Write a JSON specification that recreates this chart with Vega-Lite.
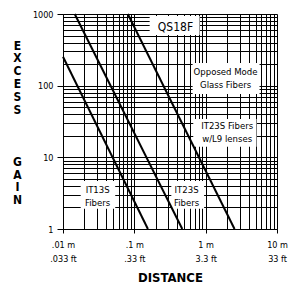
{
  "$schema": "https://vega.github.io/schema/vega-lite/v6.json",
  "width": 214,
  "height": 215,
  "autosize": {"type": "none"},
  "padding": {"left": 63, "top": 14, "right": 12, "bottom": 55},
  "background": "white",
  "config": {
    "view": {"stroke": null},
    "font": "DejaVu Sans Condensed, Liberation Sans, sans-serif"
  },
  "datasets": {
    "lines": [
      {"series": "IT13S Fibers", "x": 0.01, "y": 253},
      {"series": "IT13S Fibers", "x": 0.155, "y": 1},
      {"series": "IT23S Fibers", "x": 0.0146, "y": 1000},
      {"series": "IT23S Fibers", "x": 0.47, "y": 1},
      {"series": "IT23S Fibers w/L9 lenses", "x": 0.081, "y": 1000},
      {"series": "IT23S Fibers w/L9 lenses", "x": 2.54, "y": 1}
    ],
    "labels": [
      {"label": "QS18F", "x": 0.377, "y": 665, "x_from": 0.164, "x_to": 0.822, "y_from": 509, "y_to": 938},
      {"label": "Opposed Mode\nGlass Fibers", "x": 1.9, "y": 157, "x_from": 0.656, "x_to": 5.69, "y_from": 76.6, "y_to": 207},
      {"label": "IT23S Fibers\nw/L9 lenses", "x": 2.0, "y": 27, "x_from": 0.67, "x_to": 5.16, "y_from": 14.0, "y_to": 34.3},
      {"label": "IT13S\nFibers", "x": 0.0306, "y": 3.5, "x_from": 0.0177, "x_to": 0.054, "y_from": 1.91, "y_to": 4.69},
      {"label": "IT23S\nFibers", "x": 0.54, "y": 3.5, "x_from": 0.33, "x_to": 0.95, "y_from": 1.91, "y_to": 4.69}
    ]
  },
  "layer": [
    {
      "data": {"name": "labels"},
      "mark": {"type": "rect", "fill": "white", "stroke": null},
      "encoding": {
        "x": {
          "field": "x_from", "type": "quantitative",
          "scale": {"type": "log", "domain": [0.01, 10], "nice": false},
          "axis": {
            "values": [0.01, 0.02, 0.03, 0.04, 0.05, 0.06, 0.07, 0.08, 0.09, 0.1, 0.2, 0.3, 0.4, 0.5, 0.6, 0.7, 0.8, 0.9, 1, 2, 3, 4, 5, 6, 7, 8, 9, 10],
            "grid": true, "gridColor": "#000", "gridWidth": 1, "gridOpacity": 1,
            "domainColor": "#000",
            "tickColor": "#000", "tickSize": 4,
            "tickOpacity": {"condition": {"test": "indexof([0.01, 0.1, 1, 10], datum.value) >= 0", "value": 1}, "value": 0},
            "labelExpr": "datum.value == 0.01 ? ['.01 m', '.033 ft'] : datum.value == 0.1 ? ['.1 m', '.33 ft'] : datum.value == 1 ? ['1 m', '3.3 ft'] : datum.value == 10 ? ['10 m', '33 ft'] : ''",
            "labelFontSize": 9, "labelColor": "#000", "labelLineHeight": 14, "labelBaseline": "top",
            "labelPadding": 7, "labelDx": -3.5, "labelFlush": false, "labelOverlap": false, "labelBound": false,
            "title": "DISTANCE", "titleFontSize": 13, "titleFontWeight": "bold", "titleColor": "#000",
            "titleY": 48, "titleBaseline": "middle"
          }
        },
        "x2": {"field": "x_to"},
        "y": {
          "field": "y_from", "type": "quantitative",
          "scale": {"type": "log", "domain": [1, 1000], "nice": false},
          "axis": {
            "values": [1, 2, 3, 4, 5, 6, 7, 8, 9, 10, 20, 30, 40, 50, 60, 70, 80, 90, 100, 200, 300, 400, 500, 600, 700, 800, 900, 1000],
            "grid": true, "gridColor": "#000", "gridWidth": 1, "gridOpacity": 1,
            "domainColor": "#000",
            "tickColor": "#000", "tickSize": 6,
            "tickOpacity": {"condition": {"test": "indexof([1, 10, 100, 1000], datum.value) >= 0", "value": 1}, "value": 0},
            "labelExpr": "indexof([1, 10, 100, 1000], datum.value) >= 0 ? format(datum.value, 'd') : ''",
            "labelFontSize": 9, "labelColor": "#000", "labelPadding": 4, "labelOverlap": false, "labelBound": false, "labelFlush": false,
            "title": ["E", "X", "C", "E", "S", "S", "\u2800", "\u2800", "\u2800", "G", "A", "I", "N"],
            "titleAngle": 0, "titleFontSize": 12, "titleFontWeight": "bold", "titleColor": "#000",
            "titleLineHeight": 12.9, "titleX": -46, "titleY": 31, "titleAlign": "center", "titleBaseline": "middle"
          }
        },
        "y2": {"field": "y_to"}
      }
    },
    {
      "data": {"name": "lines"},
      "mark": {"type": "line", "color": "#000", "strokeWidth": 2},
      "encoding": {
        "x": {"field": "x", "type": "quantitative", "scale": {"type": "log", "domain": [0.01, 10], "nice": false}},
        "y": {"field": "y", "type": "quantitative", "scale": {"type": "log", "domain": [1, 1000], "nice": false}},
        "detail": {"field": "series"}
      }
    },
    {
      "data": {"name": "labels"},
      "transform": [{"filter": "datum.label != 'QS18F'"}],
      "mark": {"type": "text", "fontSize": 9.5, "color": "#000", "lineBreak": "\n", "lineHeight": 13, "align": "center", "baseline": "middle"},
      "encoding": {
        "x": {"field": "x", "type": "quantitative", "scale": {"type": "log", "domain": [0.01, 10], "nice": false}},
        "y": {"field": "y", "type": "quantitative", "scale": {"type": "log", "domain": [1, 1000], "nice": false}},
        "text": {"field": "label"}
      }
    },
    {
      "data": {"name": "labels"},
      "transform": [{"filter": "datum.label == 'QS18F'"}],
      "mark": {"type": "text", "fontSize": 12, "color": "#000", "align": "center", "baseline": "middle"},
      "encoding": {
        "x": {"field": "x", "type": "quantitative", "scale": {"type": "log", "domain": [0.01, 10], "nice": false}},
        "y": {"field": "y", "type": "quantitative", "scale": {"type": "log", "domain": [1, 1000], "nice": false}},
        "text": {"field": "label"}
      }
    }
  ]
}
